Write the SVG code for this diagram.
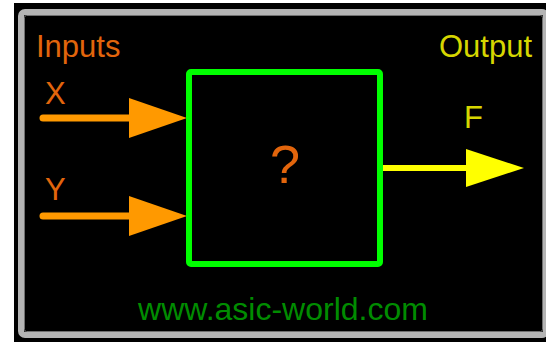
<svg xmlns="http://www.w3.org/2000/svg" width="546" height="342" viewBox="0 0 546 342">
  <style>
    .lbl { font-family: "Liberation Sans", Arial, sans-serif; font-size: 31px; }
    .in { fill: #e2650c; }
    .out { fill: #d6d600; }
    .wire-in { stroke: #ff9900; stroke-width: 7; stroke-linecap: round; fill: none; }
    .head-in { fill: #ff9900; }
    .wire-out { stroke: #ffff00; stroke-width: 6; fill: none; }
    .head-out { fill: #ffff00; }
  </style>

  <!-- page background and framed panel -->
  <rect x="0" y="0" width="546" height="342" fill="#ffffff"/>
  <rect x="14" y="3" width="532" height="339" fill="#000000"/>
  <rect x="21" y="12" width="525" height="323" rx="4" fill="#000000" stroke="#b4b4b4" stroke-width="6"/>
  <rect x="24.5" y="15.5" width="518" height="316" rx="2" fill="none" stroke="#707070" stroke-width="1"/>

  <!-- section captions -->
  <text class="lbl in" x="36" y="57">Inputs</text>
  <text class="lbl out" x="439" y="57">Output</text>

  <!-- connectors -->
  <g id="connectors">
    <g id="wire-x">
      <line class="wire-in" x1="43" y1="118" x2="130" y2="118"/>
      <polygon class="head-in" points="129,98 187,118 129,138"/>
    </g>
    <g id="wire-y">
      <line class="wire-in" x1="43" y1="216" x2="130" y2="216"/>
      <polygon class="head-in" points="129,196 187,216 129,236"/>
    </g>
    <g id="wire-f">
      <line class="wire-out" x1="380" y1="168" x2="468" y2="168"/>
      <polygon class="head-out" points="466,149 524,168 466,187"/>
    </g>
  </g>

  <!-- port labels -->
  <g id="port-x"><text class="lbl in" x="45" y="104">X</text></g>
  <g id="port-y"><text class="lbl in" x="45" y="200">Y</text></g>
  <g id="port-f"><text class="lbl out" x="464" y="128">F</text></g>

  <!-- the unknown logic block -->
  <g id="block">
    <rect x="189" y="72" width="191" height="192" rx="2" fill="#000000" stroke="#00ff00" stroke-width="6"/>
    <text x="285" y="183" text-anchor="middle" font-family="Liberation Sans, Arial, sans-serif" font-size="54" fill="#e2650c">?</text>
  </g>

  <!-- footer -->
  <text x="283" y="320" text-anchor="middle" font-family="Liberation Sans, Arial, sans-serif" font-size="32" fill="#008c00">www.asic-world.com</text>
</svg>
